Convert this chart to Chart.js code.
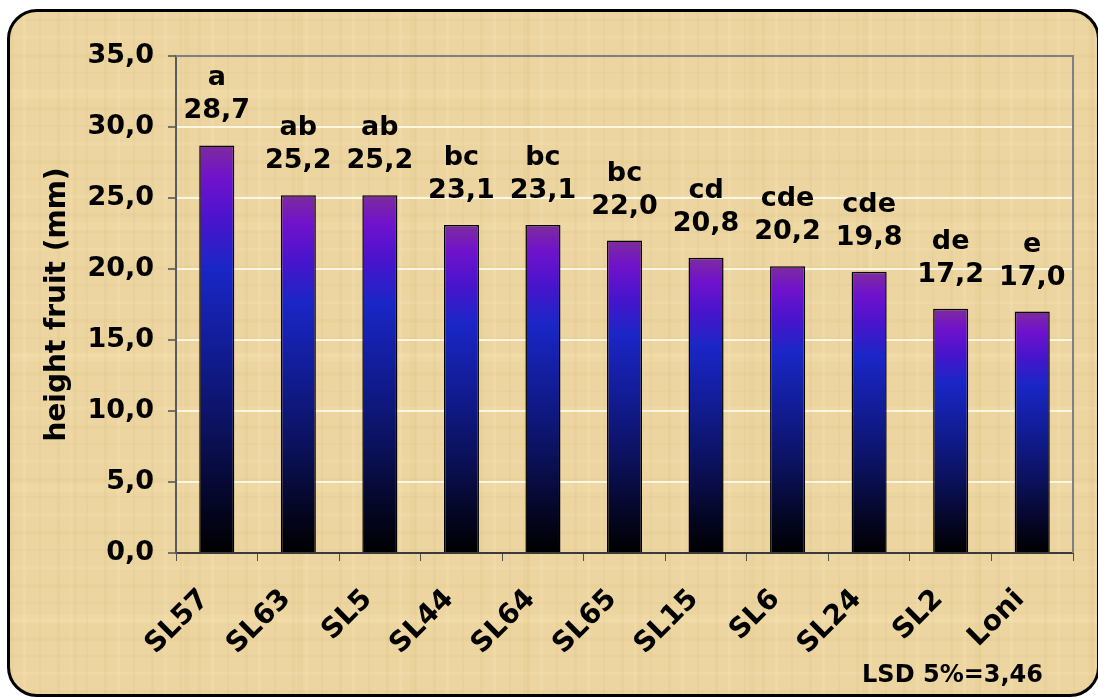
<!DOCTYPE html>
<html>
<head>
<meta charset="utf-8">
<title>height fruit (mm)</title>
<script src="https://cdn.jsdelivr.net/npm/chart.js@4/dist/chart.umd.min.js"></script>
<style>
  html, body { margin: 0; padding: 0; background: #ffffff; }
  #wrap { position: relative; width: 1098px; height: 698px; overflow: hidden; }
  /* papyrus-like card behind the chart */
  #card {
    position: absolute; left: 7px; top: 9px; width: 1093px; height: 688px;
    box-sizing: border-box; border: 3px solid #000; border-radius: 30px;
    background-color: #ecd5a0;
    background-image:
      repeating-linear-gradient(90deg, rgba(180,140,60,0.06) 0 3px, transparent 3px 13px, rgba(255,242,210,0.14) 13px 16px, transparent 16px 29px, rgba(170,135,60,0.05) 29px 31px, transparent 31px 47px),
      repeating-linear-gradient(0deg, rgba(180,140,60,0.05) 0 4px, transparent 4px 19px, rgba(255,240,205,0.12) 19px 22px, transparent 22px 37px, rgba(160,125,55,0.04) 37px 39px, transparent 39px 53px),
      repeating-linear-gradient(90deg, transparent 0 61px, rgba(200,160,80,0.06) 61px 67px, transparent 67px 113px),
      repeating-linear-gradient(0deg, transparent 0 71px, rgba(248,228,180,0.2) 71px 79px, transparent 79px 131px);
  }
  #chart { position: absolute; left: 0; top: 0; }
</style>
</head>
<body>
<div id="wrap">
  <div id="card"></div>
  <canvas id="chart" width="1098" height="698"></canvas>
</div>
<script>
// Lines and their mean fruit height
const lines = ['SL57', 'SL63', 'SL5', 'SL44', 'SL64', 'SL65', 'SL15', 'SL6', 'SL24', 'SL2', 'Loni'];
const heights = [28.7, 25.2, 25.2, 23.1, 23.1, 22.0, 20.8, 20.2, 19.8, 17.2, 17.0];
// Significance groups (Duncan letters)
const groups = ['a', 'ab', 'ab', 'bc', 'bc', 'bc', 'cd', 'cde', 'cde', 'de', 'e'];
const yTicks = [0, 5, 10, 15, 20, 25, 30, 35];
const lsdNote = 'LSD 5%=3,46';

const FONT = "'DejaVu Sans', 'Liberation Sans', Arial, sans-serif";
const fmt = v => Number(v).toFixed(1).replace('.', ',');

// vertical purple -> blue -> black fill, stretched over each bar
function barFill(ctx) {
  const chart = ctx.chart;
  if (!chart.chartArea || ctx.parsed === undefined) return '#1a28c8';
  const y = chart.scales.y;
  const top = y.getPixelForValue(ctx.parsed.y);
  const bottom = y.getPixelForValue(0);
  const g = chart.ctx.createLinearGradient(0, top, 0, bottom);
  g.addColorStop(0.00, '#7d2c9c');
  g.addColorStop(0.08, '#7012cc');
  g.addColorStop(0.18, '#4a14cc');
  g.addColorStop(0.30, '#1a26c6');
  g.addColorStop(0.50, '#111c94');
  g.addColorStop(0.70, '#0b115c');
  g.addColorStop(0.86, '#05072a');
  g.addColorStop(1.00, '#000000');
  return g;
}

// grey frame on the top and right of the plot area
const plotFrame = {
  id: 'plotFrame',
  beforeDatasetsDraw(chart) {
    const {ctx, chartArea: a} = chart;
    ctx.save();
    ctx.strokeStyle = '#7f8085';
    ctx.lineWidth = 2;
    ctx.beginPath();
    ctx.moveTo(a.left, a.top);
    ctx.lineTo(a.right, a.top);
    ctx.lineTo(a.right, a.bottom);
    ctx.stroke();
    ctx.restore();
  }
};

// value and group letter above every bar, plus the LSD note
const barLabels = {
  id: 'barLabels',
  afterDatasetsDraw(chart) {
    const {ctx} = chart;
    const meta = chart.getDatasetMeta(0);
    ctx.save();
    ctx.fillStyle = '#000';
    ctx.textAlign = 'center';
    ctx.textBaseline = 'middle';
    ctx.font = `bold 27px ${FONT}`;
    meta.data.forEach((bar, i) => {
      const vy = bar.y - 34;
      ctx.fillText(fmt(heights[i]), bar.x, vy);
      ctx.fillText(groups[i], bar.x, vy - 33);
    });
    ctx.font = `bold 24px ${FONT}`;
    ctx.textAlign = 'right';
    ctx.fillText(lsdNote, 1043, 676);
    ctx.restore();
  }
};

new Chart(document.getElementById('chart'), {
  type: 'bar',
  data: {
    labels: lines,
    datasets: [{
      data: heights,
      backgroundColor: barFill,
      borderColor: '#000',
      borderWidth: 1.5,
      barPercentage: 0.43,
      categoryPercentage: 1.0
    }]
  },
  options: {
    responsive: false,
    animation: false,
    devicePixelRatio: 1,
    layout: { padding: { left: 20, top: 56, right: 25, bottom: 0 } },
    plugins: {
      legend: { display: false },
      tooltip: { enabled: false }
    },
    scales: {
      x: {
        afterFit(s) { s.height = 145; },
        grid: {
          display: true,
          drawOnChartArea: false,
          drawTicks: true,
          tickLength: 8,
          tickColor: '#505050',
          offset: true
        },
        border: { display: true, color: '#3a3a3a', width: 2 },
        ticks: {
          color: '#000',
          font: { family: FONT, size: 28, weight: 'bold' },
          minRotation: 45,
          maxRotation: 45,
          padding: 22,
          labelOffset: -12,
          autoSkip: false
        }
      },
      y: {
        min: 0,
        max: 35,
        afterFit(s) { s.width = 156; },
        afterBuildTicks(s) { s.ticks = yTicks.map(v => ({ value: v })); },
        grid: {
          color: 'rgba(255,248,228,0.95)',
          lineWidth: 2,
          tickLength: 8,
          tickColor: '#505050',
          tickWidth: 1.5
        },
        border: { display: true, color: '#5a5a5a', width: 2 },
        ticks: {
          color: '#000',
          font: { family: FONT, size: 27, weight: 'bold' },
          padding: 14,
          callback: v => fmt(v)
        },
        title: {
          display: true,
          text: 'height fruit (mm)',
          color: '#000',
          font: { family: FONT, size: 28, weight: 'bold' },
          padding: { top: 21, bottom: 0 }
        }
      }
    }
  },
  plugins: [plotFrame, barLabels]
});
</script>
</body>
</html>
